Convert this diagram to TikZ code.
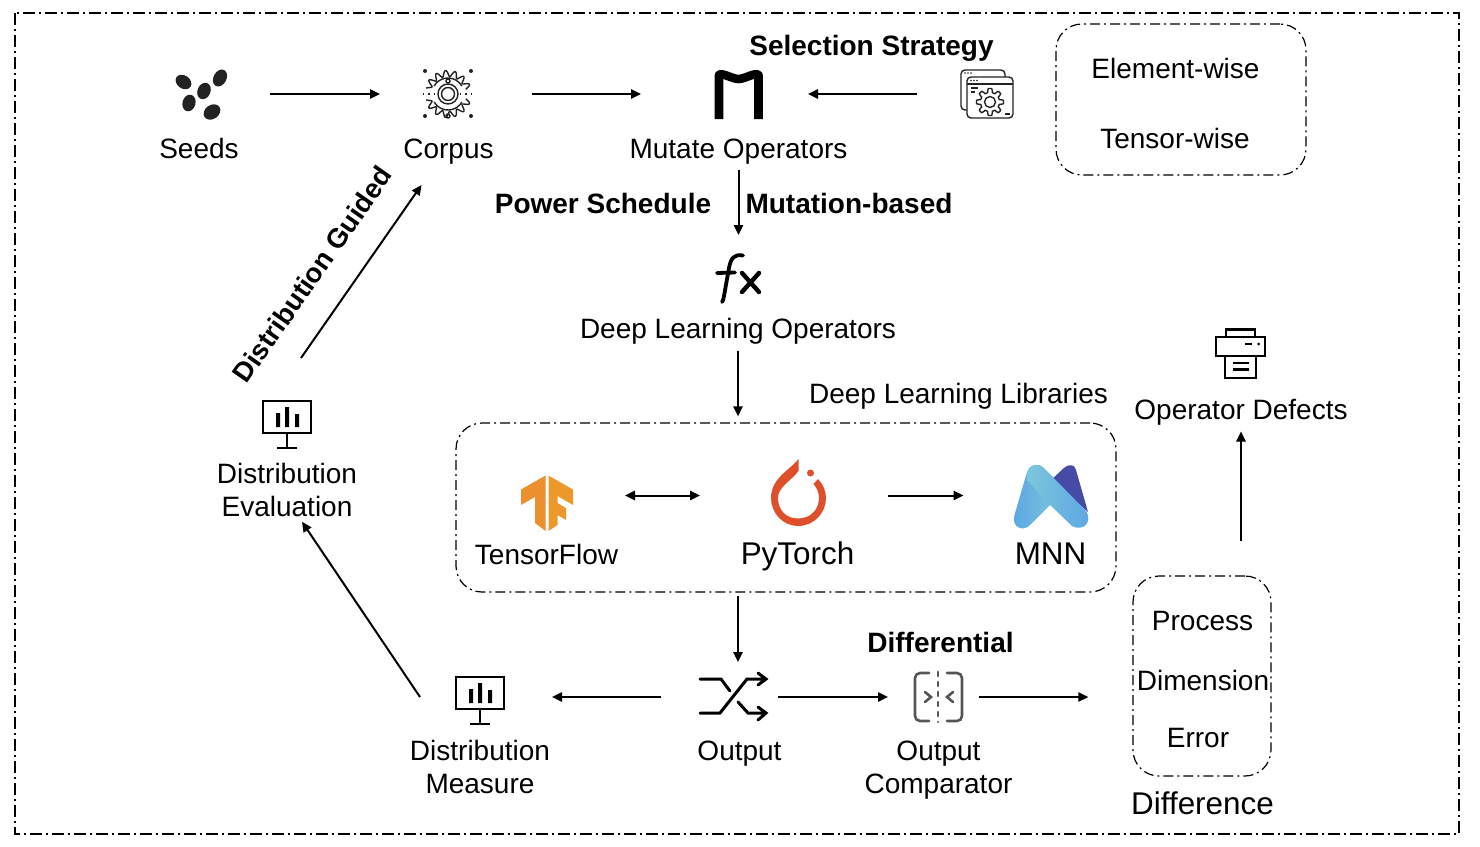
\documentclass[tikz,border=0pt]{standalone}
\usepackage{fontspec}
\setmainfont{Liberation Sans}
\usetikzlibrary{arrows.meta,positioning,calc}
\definecolor{torchred}{HTML}{DE4F2C}
\definecolor{tforange}{HTML}{EC8F2E}
\definecolor{seedgray}{HTML}{222222}
\definecolor{cmpgray}{HTML}{555555}
\definecolor{mnnlight}{HTML}{7CC6DC}
\definecolor{mnnblue}{HTML}{5BA6E4}
\definecolor{mnndark}{HTML}{464CA6}
\tikzset{
  lab/.style={anchor=base,inner sep=0pt,outer sep=0pt,text height=10pt,text depth=3pt,font=\fontsize{14}{16.5}\selectfont},
  boldlab/.style={lab,font=\fontsize{14}{16.5}\selectfont\bfseries},
  biglab/.style={lab,font=\fontsize{15.7}{18}\selectfont},
  twolab/.style={inner sep=0pt,outer sep=0pt,align=center,font=\fontsize{14}{16.5}\selectfont},
  iconbox/.style={inner sep=0pt,outer sep=0pt},
  arr/.style={line width=1pt,-{Triangle[length=5pt,width=4.6pt]}},
  dashbox/.style={draw,line width=.6pt,rounded corners=13pt,dash pattern=on 5pt off 2pt on 1pt off 2pt,inner sep=0pt},
  monitorpic/.pic={
    \draw[line width=1.2pt] (-24,-24) rectangle (24,8);
    \draw[line width=1.2pt] (0,8) -- (0,23) (-10,23) -- (10,23);
    \fill (-11,-12) rectangle (-7,2) (-2,-18) rectangle (2,2) (8,-11) rectangle (12,2);
  },
}
\begin{document}
\begin{tikzpicture}[x=0.5pt,y=-0.5pt]
%
\useasboundingbox (0,0) rectangle (1480,847);
%
\draw[line width=.7pt,dash pattern=on 6pt off 2pt on 1pt off 2pt] (15,13) rectangle (1459,834);
%
% icon places
\node[iconbox,minimum width=26.5pt,minimum height=25pt] (seedsicon) at (201,94) {};
\node[iconbox,minimum width=26pt,minimum height=25pt] (corpusicon) at (448,94) {};
\node[iconbox,minimum width=24.5pt,minimum height=25pt] (mutateicon) at (738.5,94) {};
\node[iconbox,minimum width=26pt,minimum height=25pt] (strategyicon) at (987,94) {};
\node[iconbox,minimum width=24pt,minimum height=25pt] (fxicon) at (738.5,280) {};
\node[iconbox,minimum width=24pt,minimum height=66pt] (evalicon) at (287,424) {};
\node[iconbox,minimum width=26pt,minimum height=28pt] (tficon) at (547,495.5) {};
\node[iconbox,minimum width=28pt,minimum height=33pt] (torchicon) at (798,495.5) {};
\node[iconbox,minimum width=37.5pt,minimum height=32pt] (mnnicon) at (1051,495.5) {};
\node[iconbox,minimum width=39pt,minimum height=24pt] (shuffleicon) at (738,697) {};
\node[iconbox,minimum width=60pt,minimum height=24pt] (measureicon) at (480,697) {};
\node[iconbox,minimum width=24.5pt,minimum height=24pt] (cmpicon) at (938.5,697) {};
%
% boxes
\node[dashbox,minimum width=125pt,minimum height=75.5pt] (strategybox) at (1181,99.5) {};
\node[dashbox,minimum width=330pt,minimum height=84.5pt] (libsbox) at (786,507.5) {};
\node[dashbox,minimum width=69pt,minimum height=100pt] (diffbox) at (1202,676) {};
%
% labels
\node[lab] (seedstxt) at (199,158) {Seeds};
\node[lab] (corpustxt) at (448.5,158) {Corpus};
\node[lab] (mutatetxt) at (738.5,158) {Mutate Operators};
\node[boldlab] (strategytxt) at (871.5,55) {Selection Strategy};
\node[lab] (elementtxt) at (1175.5,78) {Element-wise};
\node[lab] (tensortxt) at (1175,148) {Tensor-wise};
\node[boldlab] (powertxt) at (603,213) {Power Schedule};
\node[boldlab] (mutationtxt) at (849,213) {Mutation-based};
\node[lab] (fxtxt) at (738,338.5) {Deep Learning Operators};
\node[lab] (libstxt) at (958.5,403) {Deep Learning Libraries};
\node[lab] (defectstxt) at (1241,419.5) {Operator Defects};
\node[twolab] (evaltxt) at (287,490) {Distribution\\Evaluation};
\node[lab] (tftxt) at (546.5,564) {TensorFlow};
\node[biglab] (torchtxt) at (797.5,564) {PyTorch};
\node[biglab] (mnntxt) at (1050.5,564) {MNN};
\node[lab] (processtxt) at (1202.5,630.5) {Process};
\node[lab] (dimensiontxt) at (1203,690) {Dimension};
\node[lab] (errortxt) at (1198,747) {Error};
\node[biglab] (differencetxt) at (1202.5,814) {Difference};
\node[boldlab] (differentialtxt) at (940.5,652) {Differential};
\node[lab] (outputtxt) at (739.5,760) {Output};
\node[twolab] (cmptxt) at (938.5,770.5) {Output\\Comparator};
\node[twolab] (measuretxt) at (480,766.5) {Distribution\\Measure};
\node[boldlab,anchor=center,rotate=55,font=\fontsize{13.7}{16.5}\selectfont\bfseries] (guidedtxt) at (314.5,276) {Distribution Guided};
%
% seeds
\fill[seedgray,rotate around={-35:(183.5,82)}] (183.5,82) ellipse (8.5 and 6.5);
\fill[seedgray,rotate around={62:(220,78)}] (220,78) ellipse (9 and 6.5);
\fill[seedgray,rotate around={68:(204,91)}] (204,91) ellipse (8.5 and 6.5);
\fill[seedgray,rotate around={75:(189,103)}] (189,103) ellipse (8.5 and 6.5);
\fill[seedgray,rotate around={35:(212,112)}] (212,112) ellipse (9 and 7);
%
% corpus gear
\begin{scope}[shift={(448,94)},line width=.7pt,seedgray]
\draw plot[domain=15:165,samples=150] (\x:{20.5+3*cos(15*\x)});
\draw plot[domain=195:345,samples=150] (\x:{20.5+3*cos(15*\x)});
\draw (0,0) circle (10) (0,0) circle (6.5);
\draw (30:16) arc (30:150:16) (210:16) arc (210:330:16);
\fill[white] (0,-13) circle (2.2);
\draw (0,-13) circle (2) (0,22) circle (2);
\fill (-23,-23) circle (2) (23,-23) circle (2) (-23,22) circle (2) (23,22) circle (2);
\draw[dotted] (-25,0) -- (-12,0) (12,0) -- (25,0);
\end{scope}
%
% mutate
\draw[line width=4.3pt,line join=round] (719,119) -- (719,75) .. controls (722,72) and (732,79) .. (738.5,79) .. controls (745,79) and (755,72) .. (758.5,75) -- (758.5,119);
%
% strategy windows
\begin{scope}[line width=.7pt,seedgray]
\draw[rounded corners=2pt] (967,110) -- (961,110) -- (961,70) -- (1005,70) -- (1005,77);
\draw[rounded corners=2pt] (967,77) rectangle (1013,118);
\draw (967,84) -- (1013,84) (971,88) -- (978,88) (971,92) -- (975,92) (1005,114) -- (1010,114);
\fill (965,73) circle (.8) (968,73) circle (.8) (971,73) circle (.8) (971,80.5) circle (.8) (974,80.5) circle (.8) (977,80.5) circle (.8);
\draw[line join=round] plot[domain=0:360,samples=97] ({990+(11.5+2*sign(cos(8*\x)))*cos(\x)},{102+(11.5+2*sign(cos(8*\x)))*sin(\x)});
\draw (990,102) circle (5.5);
\end{scope}
%
% fx
\draw[line width=1.9pt,line cap=round] (743,255.5) .. controls (734,254) and (731,258) .. (729,268) -- (724,296) .. controls (723.5,299) and (723,301) .. (722,302);
\draw[line width=1.9pt,line cap=round] (717,273) -- (735,272.5);
\draw[line width=2.2pt,line cap=round] (742,273) -- (759,292) (759,273) -- (742,292);
%
% monitors and printer
\pic at (287,425) {monitorpic};
\pic at (480,701) {monitorpic};
\begin{scope}[line width=1.1pt]
\draw (1226,337) -- (1226,329.5) -- (1255,329.5) -- (1255,337);
\draw (1216,337) rectangle (1265,356);
\draw (1225,356) -- (1225,378) -- (1256,378) -- (1256,356);
\draw (1233,363) -- (1249,363) (1233,369.5) -- (1249,369.5) (1245,344) -- (1252,344);
\fill (1258.5,344) circle (1.5);
\end{scope}
%
% tensorflow
\fill[tforange] (545.5,475.5) -- (521,489.5) -- (521,505) -- (535,497) -- (535,523) -- (545.5,531) -- cycle;
\fill[tforange!92!yellow] (548.5,475.5) -- (573,489.5) -- (573,505) -- (557.5,496) -- (557.5,503) -- (566,508) -- (566,520) -- (557.5,515) -- (557.5,525) -- (548.5,531) -- cycle;
%
% pytorch
\fill[torchred] (798.5,459) .. controls (790,470) and (771,478) .. (771,498) .. controls (771,513) and (783,526) .. (798,526) .. controls (814,526) and (826,513) .. (826,498) .. controls (826,491) and (823,484) .. (818,479) -- (813.5,484) .. controls (817,488) and (819,493) .. (819,498) .. controls (819,510) and (810,518.5) .. (798,518.5) .. controls (786,518.5) and (778,510) .. (778,498) .. controls (778,487) and (791,481) .. (798.5,471) -- cycle;
\fill[torchred] (810.5,473) circle (3.5);
%
% mnn
\fill[mnndark] (1051,480) -- (1064,468) .. controls (1070,463) and (1075,465) .. (1076,470) -- (1088,512) -- cycle;
\shade[left color=mnnblue,right color=mnnlight] (1027,472) -- (1014.5,515) .. controls (1011,528) and (1024,532) .. (1030,525) -- (1060,495) -- cycle;
\shade[left color=mnnlight,right color=mnnblue] (1027,472) .. controls (1030,463) and (1040,463) .. (1044,468) -- (1086,511) .. controls (1093,522) and (1083,532) .. (1072,526) -- (1046,501) -- (1027,480) -- cycle;
%
% shuffle and comparator
\begin{scope}[line width=1.5pt,line cap=round]
\draw (700,713) -- (720,713) -- (747,679) -- (765,679) (758,673) -- (766,679) -- (758,685);
\draw (700,679) -- (721,679) -- (730,691) (738,702) -- (748,713) -- (765,713) (758,707) -- (766,713) -- (758,720);
\end{scope}
\begin{scope}[line width=1.3pt,cmpgray,line cap=round]
\draw[rounded corners=2.5pt] (929,673) -- (915,673) -- (915,721) -- (929,721);
\draw[rounded corners=2.5pt] (947,673) -- (962,673) -- (962,721) -- (947,721);
\draw[dash pattern=on 2pt off 3pt] (938,672) -- (938,722);
\draw (925,692) -- (931,697) -- (925,702) (953,692) -- (947,697) -- (953,702);
\end{scope}
%
% connectors
\draw[arr,shorten <=21pt,shorten >=21pt] (seedsicon) -- (corpusicon);
\draw[arr,shorten <=29pt,shorten >=36.5pt] (corpusicon) -- (mutateicon);
\draw[arr,shorten <=22pt,shorten >=22.5pt] (strategyicon) -- (mutateicon);
\draw[arr,shorten <=3pt,shorten >=10pt] (mutatetxt) -- (fxicon);
\draw[arr,shorten <=3pt,shorten >=3pt] (fxtxt) -- (fxtxt |- libsbox.north);
\draw[line width=1pt,{Triangle[length=5pt,width=4.6pt]}-{Triangle[length=5pt,width=4.6pt]},shorten <=26pt,shorten >=35pt] (tficon) -- (torchicon);
\draw[arr,shorten <=31pt,shorten >=25pt] (torchicon) -- (mnnicon);
\draw[arr,shorten <=1.8pt,shorten >=5.5pt] (shuffleicon |- libsbox.south) -- (shuffleicon);
\draw[arr,shorten <=19pt,shorten >=6pt] (shuffleicon) -- (measureicon);
\draw[arr,shorten <=.5pt,shorten >=13pt] (shuffleicon.east) -- (cmpicon);
\draw[arr,shorten <=8pt,shorten >=22pt] (cmpicon) -- (cmpicon -| diffbox.west);
\draw[arr,shorten <=17pt,shorten >=3pt] (diffbox.north -| defectstxt) -- (defectstxt);
\draw[arr] (measureicon.west) -- ([shift={(15,5)}]evaltxt.south);
\draw[arr] ([shift={(14,0)}]evalicon.north) -- ([shift={(-27,21)}]corpustxt.south);
%
\end{tikzpicture}
\end{document}
